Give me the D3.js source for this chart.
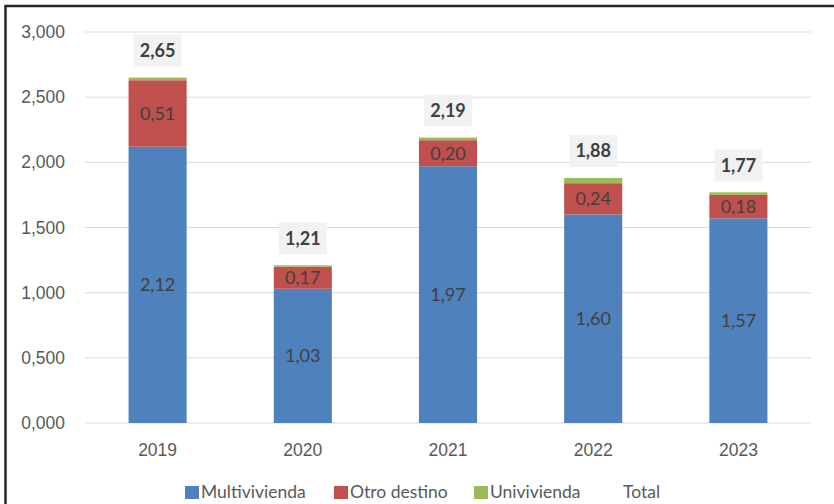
<!DOCTYPE html>
<html>
<head>
<meta charset="utf-8">
<script src="https://cdn.jsdelivr.net/npm/d3@7"></script>
<style>
  html, body { margin: 0; padding: 0; background: #fff; }
  svg { display: block; font-family: Lato, "Open Sans", sans-serif; }
</style>
</head>
<body>
<svg id="chart" width="834" height="504"></svg>
<script>
// Años y series (millones de m²)
const years = ["2019", "2020", "2021", "2022", "2023"];
const multivivienda = [2.12, 1.03, 1.97, 1.60, 1.57];
const otroDestino = [0.51, 0.17, 0.20, 0.24, 0.18];
const univivienda = [0.02, 0.01, 0.02, 0.04, 0.02];
const total = [2.65, 1.21, 2.19, 1.88, 1.77];
const yTicks = [0, 0.5, 1, 1.5, 2, 2.5, 3];

const seriesNames = ["Multivivienda", "Otro destino", "Univivienda"];
const seriesColors = ["#4f81bd", "#c0504d", "#9bbb59"];

const svg = d3.select("#chart");
const W = 834, H = 504;
const margin = { left: 85, right: 23, top: 32, bottom: 81 };

// Marco exterior
svg.append("rect").attr("x", 5.5).attr("y", 6).attr("width", W + 10).attr("height", H + 10)
  .attr("fill", "none").attr("stroke", "#262626").attr("stroke-width", 2.5);

const x = d3.scaleBand().domain(years).range([margin.left, W - margin.right]).paddingInner(0.6).paddingOuter(0.3);
const y = d3.scaleLinear().domain([0, 3]).range([H - margin.bottom, margin.top]);

// Formato con coma decimal
const fmtTick = v => d3.format(".3f")(v).replace(".", ",");
const fmt2 = v => d3.format(".2f")(v).replace(".", ",");

// Líneas de cuadrícula y eje Y
const yAxis = d3.axisLeft(y).tickValues(yTicks).tickSize(0).tickPadding(0).tickFormat(fmtTick);
const gy = svg.append("g").attr("transform", `translate(${margin.left - 20},0)`).call(yAxis);
gy.select(".domain").remove();
gy.selectAll("text").attr("font-size", 17.5).attr("fill", "#595959");

svg.append("g").selectAll("line").data(yTicks).join("line")
  .attr("x1", margin.left).attr("x2", W - margin.right)
  .attr("y1", d => y(d)).attr("y2", d => y(d))
  .attr("stroke", "#d9d9d9").attr("stroke-width", 1);

// Barras apiladas
const rows = years.map((yr, i) => ({ year: yr, Multivivienda: multivivienda[i], "Otro destino": otroDestino[i], Univivienda: univivienda[i] }));
const stack = d3.stack().keys(seriesNames)(rows);

const layers = svg.append("g").selectAll("g").data(stack).join("g")
  .attr("fill", (d, i) => seriesColors[i]);
layers.selectAll("rect").data(d => d).join("rect")
  .attr("x", d => x(d.data.year))
  .attr("width", x.bandwidth())
  .attr("y", d => y(d[1]))
  .attr("height", d => y(d[0]) - y(d[1]));

// Etiquetas de los segmentos (multivivienda y otro destino)
stack.slice(0, 2).forEach(layer => {
  svg.append("g").selectAll("text").data(layer).join("text")
    .attr("x", d => x(d.data.year) + x.bandwidth() / 2)
    .attr("y", d => (y(d[0]) + y(d[1])) / 2)
    .attr("dy", "0.35em")
    .attr("text-anchor", "middle")
    .attr("font-size", 18)
    .attr("fill", "#404040")
    .text(d => fmt2(d[1] - d[0]));
});

// Eje X
const xAxis = d3.axisBottom(x).tickSize(0).tickPadding(21);
const gx = svg.append("g").attr("transform", `translate(0,${y(0)})`).call(xAxis);
gx.select(".domain").remove();
gx.selectAll("text").attr("font-size", 17.5).attr("fill", "#595959");

// Totales sobre cada barra
const totalG = svg.append("g").selectAll("g").data(years).join("g")
  .attr("transform", (d, i) => `translate(${x(d) + x.bandwidth() / 2},${y(total[i]) - 27})`);
totalG.append("rect").attr("x", -24).attr("y", -16).attr("width", 48).attr("height", 32).attr("fill", "#f2f2f2");
totalG.append("text").attr("text-anchor", "middle").attr("dy", "0.35em")
  .attr("font-size", 18).attr("font-weight", "bold").attr("fill", "#404040")
  .text((d, i) => fmt2(total[i]));

// Leyenda
const legendItems = [
  { name: "Multivivienda", color: seriesColors[0], x: 185 },
  { name: "Otro destino", color: seriesColors[1], x: 334 },
  { name: "Univivienda", color: seriesColors[2], x: 474 },
  { name: "Total", color: null, x: 607 }
];
const lg = svg.append("g").selectAll("g").data(legendItems).join("g")
  .attr("transform", d => `translate(${d.x},492)`);
lg.filter(d => d.color).append("rect").attr("x", 0).attr("y", -6).attr("width", 14).attr("height", 13).attr("fill", d => d.color);
lg.append("text").attr("x", 16).attr("dy", "0.35em").attr("font-size", 17.5).attr("fill", "#595959").text(d => d.name);
</script>
</body>
</html>
